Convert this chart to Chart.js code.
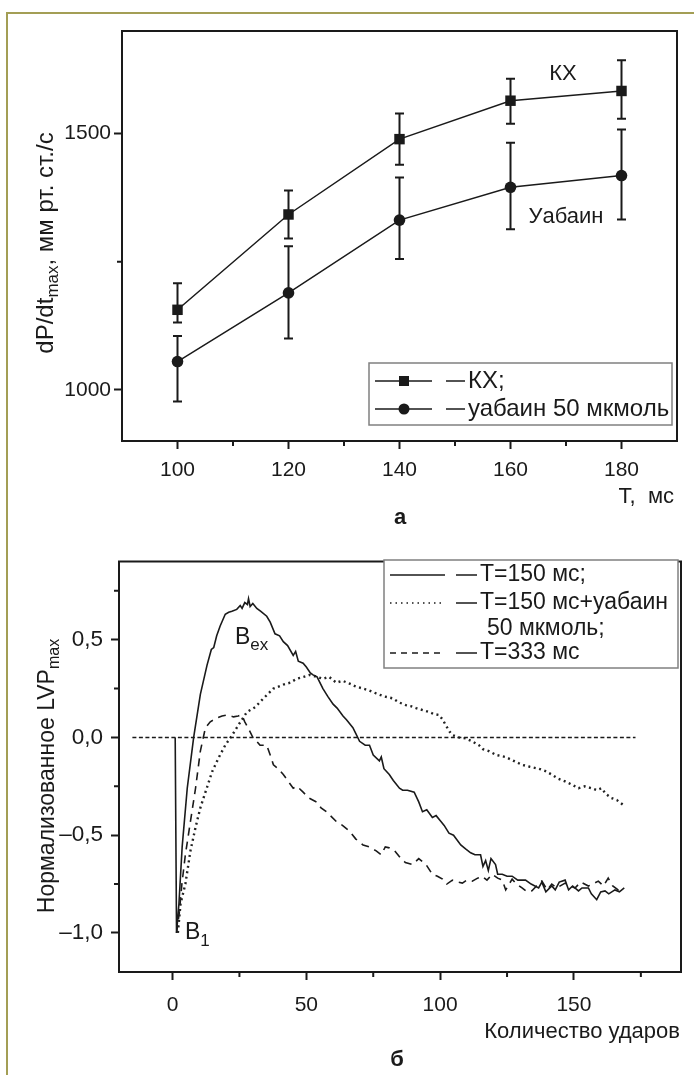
<!DOCTYPE html>
<html>
<head>
<meta charset="utf-8">
<script src="https://cdn.jsdelivr.net/npm/chart.js@4.4.1/dist/chart.umd.min.js"></script>
<style>
  html, body { margin: 0; padding: 0; background: #fff; }
  body { width: 694px; height: 1075px; position: relative; overflow: hidden; }
  .frame { position: absolute; left: 6px; top: 12px; right: -4px; bottom: -4px;
           border-top: 2px solid #a39e55; border-left: 2px solid #a39e55; }
  canvas { position: absolute; left: 0; }
  #chartA { top: 0; }
  #chartB { top: 540px; }
</style>
</head>
<body>
<div class="frame"></div>
<canvas id="chartA" width="694" height="540"></canvas>
<canvas id="chartB" width="694" height="535"></canvas>
<script>
// ── a: dP/dt max vs stimulation period
const periods = [100, 120, 140, 160, 180]
const kx      = [1156, 1342, 1489, 1564, 1583]
const kxHi    = [1208, 1389, 1539, 1607, 1643]
const kxLo    = [1131, 1295, 1439, 1519, 1529]
const ouab    = [1055, 1189, 1331, 1395, 1418]
const ouabHi  = [1105, 1280, 1414, 1482, 1508]
const ouabLo  = [ 977, 1100, 1255, 1313, 1332]
const aTicksX = [100, 120, 140, 160, 180]
const aMinorX = [110, 130, 150, 170]
const aTicksY = [1000, 1500]
const aMinorY = [1250]

// ── б: normalized LVP max vs beat count
const t150X = [1, 1.5, 2.4, 3.6, 5.5, 7.9, 10.4, 12.9, 14.5, 15.4, 16.5, 17.8, 19.7, 21, 22.2, 24, 25.3, 26, 27, 28,
  28.4, 29, 30, 31.5, 33, 35.2, 36.5, 38.3, 40, 41.4, 43, 45.1, 46, 47, 48.8, 50, 51.5, 52.5, 54, 56.2,
  58, 60, 61.5, 63.7, 65, 67.4, 68.5, 69.9, 72, 73.6, 75, 77.3, 78, 79, 81, 82.5, 84.8, 86, 87.8, 90.3,
  92, 93.4, 95, 97.1, 98.5, 100.3, 101.5, 103.3, 105, 107.7, 109.5, 111.4, 113, 115.1, 116, 117, 118, 119, 120.7, 121.5,
  123.2, 125, 126.9, 129, 131.9, 134, 136.8, 138, 139.5, 141.7, 143, 144.5, 146.7, 148, 149.5, 151.7, 153, 155.4, 156.5, 158.5,
  160, 161.6, 163, 165.3, 167, 168.8]
const t150Y = [0, -1.0, -0.85, -0.56, -0.26, 0.0, 0.22, 0.37, 0.45, 0.46, 0.52, 0.57, 0.63, 0.64, 0.645, 0.655, 0.675, 0.66, 0.69, 0.68,
  0.71, 0.67, 0.685, 0.66, 0.645, 0.62, 0.59, 0.53, 0.52, 0.49, 0.47, 0.42, 0.44, 0.39, 0.38, 0.36, 0.33, 0.32, 0.31, 0.25,
  0.21, 0.17, 0.15, 0.11, 0.09, 0.05, 0.02, -0.02, -0.04, -0.04, -0.09, -0.12, -0.10, -0.16, -0.19, -0.22, -0.26, -0.27, -0.27, -0.28,
  -0.33, -0.38, -0.37, -0.41, -0.40, -0.43, -0.45, -0.49, -0.50, -0.55, -0.57, -0.59, -0.60, -0.60, -0.66, -0.63, -0.68, -0.62, -0.65, -0.70,
  -0.70, -0.71, -0.71, -0.73, -0.73, -0.75, -0.77, -0.74, -0.79, -0.76, -0.78, -0.74, -0.73, -0.78, -0.76, -0.785, -0.77, -0.77, -0.80, -0.83,
  -0.79, -0.785, -0.80, -0.78, -0.79, -0.77]

const ouabX = [2, 3, 4.8, 6.7, 8.6, 10.4, 12.3, 14.8, 17.2, 19.7, 22.2, 24.7, 27.8, 30.9, 34, 37.7, 41.4, 44, 46.4, 49,
  51.3, 54, 56.2, 58.5, 61.2, 63.5, 66.2, 68.5, 71.2, 73.5, 76.1, 79, 82.3, 84.5, 87.2, 89, 91, 93.5, 95.9, 97.5,
  99.6, 101, 102.1, 103.5, 104.6, 107, 109.5, 112, 114.5, 116, 118.2, 121, 124.4, 127.5, 130.6, 133.5, 136.8, 139, 141.7, 144,
  146.7, 149, 151.7, 154, 156.6, 158.5, 160.3, 162, 164, 166, 168.4]
const ouabY = [-1.0, -0.85, -0.75, -0.58, -0.46, -0.36, -0.28, -0.175, -0.105, -0.04, 0.01, 0.065, 0.13, 0.155, 0.2, 0.25, 0.27, 0.28, 0.30, 0.31,
  0.32, 0.31, 0.30, 0.31, 0.28, 0.29, 0.275, 0.26, 0.25, 0.24, 0.225, 0.21, 0.20, 0.18, 0.165, 0.16, 0.15, 0.14, 0.13, 0.12,
  0.115, 0.09, 0.063, 0.03, 0.012, 0.0, -0.005, -0.02, -0.04, -0.06, -0.07, -0.09, -0.10, -0.12, -0.14, -0.15, -0.16, -0.17, -0.19, -0.21,
  -0.225, -0.24, -0.26, -0.25, -0.26, -0.27, -0.26, -0.29, -0.31, -0.32, -0.345]

const t333X = [1.5, 2.5, 3.5, 4.8, 6.7, 8.6, 10.4, 12.3, 14.1, 16.6, 18.5, 20.3, 22.8, 24.5, 25.9, 27, 28.4, 30.2, 31.5, 32.7,
  35.2, 36.5, 37.7, 39.5, 41.4, 43, 45.1, 46.5, 48.8, 51, 53.8, 55.5, 57.5, 59, 61.2, 63.5, 66.2, 68.5, 71.2, 73.5,
  76.1, 78, 79.5, 81, 83, 84.8, 87, 89.7, 92, 94.7, 97.1, 99, 100.9, 102.5, 104.6, 106.5, 108.3, 110, 112, 114,
  115.7, 117.5, 119.4, 121.5, 123.2, 124.5, 126.9, 128.5, 130.6, 132.5, 134.3, 136, 138, 140, 141.7, 143.5, 146.7, 148.5, 150.4, 152.5,
  155.4, 157, 159.1, 161, 162.8, 164.5, 166.5, 168.8]
const t333Y = [-1.0, -0.9, -0.75, -0.6, -0.43, -0.26, -0.07, 0.05, 0.08, 0.10, 0.11, 0.115, 0.105, 0.11, 0.115, 0.08, 0.045, -0.005, -0.02, -0.04,
  -0.04, -0.09, -0.14, -0.16, -0.19, -0.22, -0.26, -0.25, -0.28, -0.31, -0.33, -0.36, -0.38, -0.40, -0.43, -0.45, -0.48, -0.52, -0.55, -0.56,
  -0.58, -0.60, -0.56, -0.565, -0.58, -0.61, -0.64, -0.65, -0.62, -0.65, -0.70, -0.71, -0.725, -0.75, -0.73, -0.74, -0.745, -0.73, -0.735, -0.72,
  -0.71, -0.73, -0.70, -0.72, -0.73, -0.78, -0.725, -0.75, -0.77, -0.79, -0.785, -0.76, -0.735, -0.78, -0.75, -0.77, -0.745, -0.76, -0.77, -0.74,
  -0.76, -0.75, -0.735, -0.76, -0.72, -0.76, -0.78, -0.77]

const zeroX = [-15, 173]
const zeroY = [0, 0]
const bTicksX = [0, 50, 100, 150]
const bMinorX = [25, 75, 125, 175]
const bTicksY = [-1, -0.5, 0, 0.5]
const bMinorY = [-0.75, -0.25, 0.25, 0.75]

const INK  = '#1a1a1a'
const FONT = '"Liberation Sans", Arial, sans-serif'
const pts  = (xs, ys) => xs.map((x, i) => ({ x, y: ys[i] }))

// text made of runs (for subscripts), optionally rotated
function rich(ctx, parts, x, y, align = 'center', rotate = 0) {
  ctx.save()
  ctx.translate(x, y); ctx.rotate(rotate)
  ctx.textBaseline = 'middle'; ctx.textAlign = 'left'; ctx.fillStyle = INK
  const fnt = p => (p.bold ? 'bold ' : '') + p.size + 'px ' + FONT
  let w = 0
  parts.forEach(p => { ctx.font = fnt(p); p.w = ctx.measureText(p.t).width; w += p.w })
  let cx = align === 'right' ? -w : align === 'left' ? 0 : -w / 2
  parts.forEach(p => { ctx.font = fnt(p); ctx.fillText(p.t, cx, p.dy || 0); cx += p.w })
  ctx.restore()
}

function seg(ctx, x0, x1, y, dash = [], width = 1.5) {
  ctx.save(); ctx.strokeStyle = INK; ctx.lineWidth = width; ctx.setLineDash(dash)
  ctx.beginPath(); ctx.moveTo(x0, y); ctx.lineTo(x1, y); ctx.stroke(); ctx.restore()
}

function axis(min, max, ticks, pad, size, fmt, fit) {
  return {
    type: 'linear', min, max,
    afterBuildTicks: s => { s.ticks = ticks.map(v => ({ value: v })) },
    afterFit: fit,
    border: { display: false },
    grid: { drawOnChartArea: false, tickLength: 8, tickWidth: 2, tickColor: INK },
    ticks: { color: INK, padding: pad, autoSkip: false, maxRotation: 0, callback: fmt,
             font: { family: FONT, size } }
  }
}

// box around the plot + short minor ticks
const frame = (minorX, minorY) => ({
  id: 'frame',
  afterDraw(chart) {
    const { ctx, chartArea: a, scales: { x, y } } = chart
    ctx.save(); ctx.strokeStyle = INK; ctx.lineWidth = 2
    ctx.strokeRect(a.left, a.top, a.right - a.left, a.bottom - a.top)
    ctx.beginPath()
    minorX.forEach(v => { const p = x.getPixelForValue(v); ctx.moveTo(p, a.bottom); ctx.lineTo(p, a.bottom + 5) })
    minorY.forEach(v => { const p = y.getPixelForValue(v); ctx.moveTo(a.left, p); ctx.lineTo(a.left - 5, p) })
    ctx.stroke(); ctx.restore()
  }
})

const errorBars = {
  id: 'errorBars',
  beforeDatasetsDraw(chart) {
    const { ctx, scales: { x, y } } = chart
    ctx.save(); ctx.strokeStyle = INK; ctx.lineWidth = 2
    ;[[kxHi, kxLo], [ouabHi, ouabLo]].forEach(([hi, lo]) => periods.forEach((p, i) => {
      const px = x.getPixelForValue(p), t = y.getPixelForValue(hi[i]), b = y.getPixelForValue(lo[i])
      ctx.beginPath()
      ctx.moveTo(px, t); ctx.lineTo(px, b)
      ctx.moveTo(px - 4.5, t); ctx.lineTo(px + 4.5, t)
      ctx.moveTo(px - 4.5, b); ctx.lineTo(px + 4.5, b)
      ctx.stroke()
    }))
    ctx.restore()
  }
}

const notesA = {
  id: 'notesA',
  afterDraw(chart) {
    const { ctx, chartArea: a } = chart
    rich(ctx, [{ t: 'КХ', size: 22 }], 563, 74)
    rich(ctx, [{ t: 'Уабаин', size: 22 }], 566, 217)
    rich(ctx, [{ t: 'dP/dt', size: 24 }, { t: 'max', size: 17, dy: 7 }, { t: ', мм рт. ст./с', size: 24 }],
      46, 243, 'center', -Math.PI / 2)
    rich(ctx, [{ t: 'T,  мс', size: 22 }], 674, 497, 'right')
    rich(ctx, [{ t: 'а', size: 22, bold: true }], 400, 518)
    // legend
    ctx.save(); ctx.strokeStyle = '#808080'; ctx.lineWidth = 1.5
    ctx.strokeRect(369, 363, 303, 62); ctx.restore()
    const rows = [{ y: 381, t: 'КХ;', sq: true }, { y: 409, t: 'уабаин 50 мкмоль', sq: false }]
    rows.forEach(r => {
      seg(ctx, 375, 432, r.y); seg(ctx, 446, 465, r.y)
      ctx.save(); ctx.fillStyle = INK; ctx.beginPath()
      if (r.sq) ctx.rect(399, r.y - 5, 10, 10); else ctx.arc(404, r.y, 5.5, 0, Math.PI * 2)
      ctx.fill(); ctx.restore()
      rich(ctx, [{ t: r.t, size: 24 }], 468, r.y, 'left')
    })
  }
}

const notesB = {
  id: 'notesB',
  afterDraw(chart) {
    const { ctx } = chart
    rich(ctx, [{ t: 'B', size: 23 }, { t: 'ex', size: 17, dy: 7 }], 235, 98, 'left')
    rich(ctx, [{ t: 'B', size: 23 }, { t: '1', size: 17, dy: 8 }], 185, 393, 'left')
    rich(ctx, [{ t: 'Нормализованное LVP', size: 23 }, { t: 'max', size: 16, dy: 7 }],
      48, 236, 'center', -Math.PI / 2)
    rich(ctx, [{ t: 'Количество ударов', size: 22 }], 680, 492, 'right')
    rich(ctx, [{ t: 'б', size: 22, bold: true }], 397, 520)
    // legend
    ctx.save(); ctx.fillStyle = '#fff'; ctx.fillRect(384, 20, 294, 108)
    ctx.strokeStyle = '#808080'; ctx.lineWidth = 1.5; ctx.strokeRect(384, 20, 294, 108); ctx.restore()
    const rows = [
      { y: 35, t: 'T=150 мс;', dash: [], w: 1.5 },
      { y: 63, t: 'T=150 мс+уабаин', dash: [1.5, 4], w: 1.5 },
      { y: 113, t: 'T=333 мс', dash: [6, 5], w: 1.5 }
    ]
    rows.forEach(r => {
      seg(ctx, 390, 445, r.y, r.dash, r.w); seg(ctx, 456, 477, r.y)
      rich(ctx, [{ t: r.t, size: 23 }], 480, r.y, 'left')
    })
    rich(ctx, [{ t: '50 мкмоль;', size: 23 }], 487, 89, 'left')
  }
}

const base = (padTop, padRight) => ({
  responsive: false, animation: false, events: [],
  layout: { padding: { top: padTop, right: padRight, left: 0, bottom: 0 } },
  plugins: { legend: { display: false }, tooltip: { enabled: false } }
})

new Chart(document.getElementById('chartA'), {
  type: 'line',
  data: {
    datasets: [
      { label: 'КХ', data: pts(periods, kx), borderColor: INK, borderWidth: 1.5,
        pointStyle: 'rect', pointRadius: 7.4, pointBackgroundColor: INK, pointBorderWidth: 0 },
      { label: 'уабаин 50 мкмоль', data: pts(periods, ouab), borderColor: INK, borderWidth: 1.5,
        pointStyle: 'circle', pointRadius: 5.8, pointBackgroundColor: INK, pointBorderWidth: 0 }
    ]
  },
  options: {
    ...base(31, 17),
    scales: {
      x: axis(90, 190, aTicksX, 9, 21, v => String(v), s => { s.height = 99 }),
      y: axis(900, 1700, aTicksY, 3, 21, v => String(v), s => { s.width = 122 })
    }
  },
  plugins: [errorBars, frame(aMinorX, aMinorY), notesA]
})

const fmtB = v => (v < 0 ? '–' : '') + Math.abs(v).toFixed(1).replace('.', ',')

new Chart(document.getElementById('chartB'), {
  type: 'line',
  data: {
    datasets: [
      { label: 'zero', data: pts(zeroX, zeroY), borderColor: INK, borderWidth: 1.5, borderDash: [4, 2.5], pointRadius: 0 },
      { label: 'T=150 мс', data: pts(t150X, t150Y), borderColor: INK, borderWidth: 1.6, pointRadius: 0 },
      { label: 'T=150 мс+уабаин 50 мкмоль', data: pts(ouabX, ouabY), borderColor: '#222', borderWidth: 2.4,
        borderDash: [2, 3.5], pointRadius: 0 },
      { label: 'T=333 мс', data: pts(t333X, t333Y), borderColor: INK, borderWidth: 1.6, borderDash: [8, 6], pointRadius: 0 }
    ]
  },
  options: {
    ...base(18, 13),
    scales: {
      x: axis(-20, 190, bTicksX, 13, 21, v => String(v), s => { s.height = 103 }),
      y: axis(-1.2, 0.9, bTicksY, 8, 22.5, fmtB, s => { s.width = 119 })
    }
  },
  plugins: [frame(bMinorX, bMinorY), notesB]
})
</script>
</body>
</html>
